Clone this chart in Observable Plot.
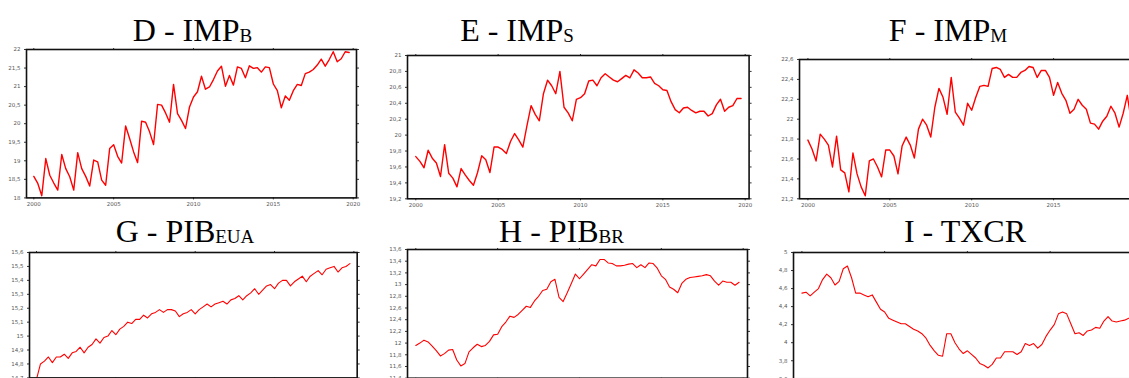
<!DOCTYPE html>
<html><head><meta charset="utf-8">
<script src="https://cdn.jsdelivr.net/npm/d3@7"></script>
<script src="https://cdn.jsdelivr.net/npm/@observablehq/plot@0.6"></script>
<style>
html,body{margin:0;padding:0;background:#fff}
body{width:1129px;height:378px;overflow:hidden;position:relative}
.title{position:absolute;font-family:"Liberation Serif","Times New Roman",serif;font-size:32px;line-height:32px;white-space:nowrap;transform:translateX(-50%);color:#000}
.title .sub{font-size:19px;position:relative;top:1px}
.panel{position:absolute}
</style></head>
<body>
<script>
// ---- data (quarterly, 2000Q1 .. 2019Q4) ----
const yearTicks = [2000, 2005, 2010, 2015, 2020];

const impB = [18.58,18.39,18.06,19.06,18.61,18.40,18.21,19.17,18.79,18.57,
18.21,19.22,18.79,18.58,18.32,19.02,18.97,18.48,18.34,19.33,
19.43,19.12,18.94,19.94,19.60,19.24,18.95,20.07,20.04,19.78,
19.44,20.52,20.50,20.29,20.04,21.06,20.27,20.09,19.87,20.45,
20.72,20.86,21.28,20.93,20.99,21.19,21.42,21.55,21.01,21.30,
21.04,21.53,21.49,21.24,21.56,21.49,21.51,21.39,21.53,21.51,
21.07,20.89,20.43,20.75,20.63,20.89,21.06,21.03,21.35,21.39,
21.46,21.58,21.74,21.55,21.73,21.94,21.67,21.75,21.94,21.92];

const impS = [19.73,19.67,19.59,19.81,19.71,19.65,19.48,19.88,19.52,19.46,
19.35,19.58,19.50,19.43,19.37,19.53,19.74,19.69,19.53,19.85,
19.85,19.82,19.77,19.92,20.02,19.94,19.85,20.12,20.37,20.26,
20.18,20.52,20.69,20.62,20.52,20.80,20.35,20.28,20.18,20.45,
20.47,20.52,20.68,20.69,20.62,20.72,20.77,20.73,20.69,20.67,
20.71,20.75,20.72,20.82,20.78,20.72,20.72,20.73,20.65,20.62,
20.57,20.56,20.42,20.32,20.28,20.34,20.35,20.31,20.28,20.30,
20.30,20.24,20.27,20.38,20.45,20.30,20.35,20.37,20.46,20.46];

const impM = [21.79,21.70,21.58,21.85,21.80,21.74,21.52,21.83,21.49,21.46,
21.27,21.66,21.45,21.32,21.23,21.58,21.60,21.52,21.42,21.69,
21.69,21.63,21.45,21.73,21.82,21.74,21.61,21.90,22.00,21.94,
21.82,22.12,22.31,22.22,22.05,22.42,22.07,22.01,21.94,22.16,
22.09,22.22,22.33,22.34,22.33,22.51,22.52,22.50,22.42,22.45,
22.42,22.42,22.47,22.49,22.53,22.52,22.42,22.49,22.49,22.42,
22.24,22.37,22.26,22.19,22.06,22.10,22.20,22.14,22.10,21.96,
21.95,21.90,21.98,22.03,22.13,22.06,21.92,22.06,22.24,21.98];

const pibEUA = [14.69,14.80,14.82,14.85,14.81,14.85,14.85,14.87,14.84,14.88,
14.89,14.92,14.88,14.92,14.94,14.98,14.95,14.99,15.00,15.04,
15.01,15.05,15.07,15.10,15.09,15.12,15.12,15.15,15.13,15.16,
15.17,15.19,15.17,15.19,15.19,15.18,15.14,15.16,15.17,15.19,
15.16,15.19,15.21,15.23,15.21,15.23,15.24,15.25,15.23,15.26,
15.27,15.29,15.26,15.29,15.31,15.34,15.30,15.33,15.36,15.37,
15.34,15.38,15.40,15.40,15.36,15.39,15.41,15.43,15.39,15.43,
15.45,15.47,15.44,15.48,15.49,15.50,15.46,15.49,15.50,15.52];

const pibBR = [11.96,12.00,12.05,12.02,11.95,11.87,11.78,11.82,11.88,11.89,
11.71,11.61,11.65,11.85,11.92,11.98,11.94,11.96,12.03,12.14,
12.15,12.28,12.36,12.46,12.44,12.49,12.56,12.63,12.61,12.72,
12.80,12.90,12.92,13.05,13.09,12.78,12.71,12.86,13.02,13.18,
13.10,13.18,13.26,13.34,13.32,13.43,13.43,13.37,13.36,13.32,
13.32,13.33,13.35,13.36,13.29,13.34,13.29,13.37,13.36,13.28,
13.15,13.09,12.96,12.92,12.86,13.02,13.09,13.12,13.13,13.14,
13.15,13.17,13.15,13.06,12.99,13.06,13.04,13.04,12.99,13.04];

const txcr = [4.55,4.56,4.52,4.56,4.60,4.70,4.76,4.72,4.64,4.68,
4.82,4.85,4.72,4.55,4.55,4.53,4.51,4.53,4.45,4.37,
4.34,4.27,4.25,4.23,4.21,4.21,4.18,4.15,4.13,4.10,
4.05,3.97,3.91,3.86,3.85,4.10,4.10,4.00,3.93,3.88,
3.91,3.87,3.83,3.77,3.75,3.72,3.76,3.83,3.83,3.90,
3.90,3.90,3.87,3.90,3.99,3.97,3.99,3.94,3.98,4.07,
4.14,4.20,4.32,4.34,4.32,4.21,4.10,4.11,4.08,4.13,
4.14,4.17,4.16,4.24,4.29,4.24,4.23,4.24,4.25,4.27];

const ticksD = [18,18.5,19,19.5,20,20.5,21,21.5,22];
const ticksE = [19.2,19.4,19.6,19.8,20,20.2,20.4,20.6,20.8,21];
const ticksF = [21.2,21.4,21.6,21.8,22,22.2,22.4,22.6];
const ticksG = [14.7,14.8,14.9,15,15.1,15.2,15.3,15.4,15.5,15.6];
const ticksH = [11.4,11.6,11.8,12,12.2,12.4,12.6,12.8,13,13.2,13.4,13.6];
const ticksI = [3.6,3.8,4,4.2,4.4,4.6,4.8,5];

// quarter positions
const quarterTime = d3.range(impB.length).map(i => 2000 + i / 4);

// ---- layout ----
const panels = [
  {letter:"D", name:"IMP", sub:"B", values:impB, ticks:ticksD, yd:[18,22],
   fx:[26,356], fy:[49.3,197.7], px0:33.3, k:15.97, tx:192.5, ty:14, sw:1.4, xl:yearTicks},
  {letter:"E", name:"IMP", sub:"S", values:impS, ticks:ticksE, yd:[19.2,21],
   fx:[406.7,748.3], fy:[55,198.3], px0:415, k:16.47, tx:517, ty:14, sw:1.4, xl:yearTicks},
  {letter:"F", name:"IMP", sub:"M", values:impM, ticks:ticksF, yd:[21.2,22.6],
   fx:[799.3,1140], fy:[59,198.3], px0:807.7, k:16.38, tx:948, ty:14, sw:1.4, xl:yearTicks.slice(0, 4)},
  {letter:"G", name:"PIB", sub:"EUA", values:pibEUA, ticks:ticksG, yd:[14.7,15.6],
   fx:[29,356.7], fy:[251.7,377.1], px0:36, k:15.87, tx:185, ty:215, sw:1.1, xl:[]},
  {letter:"H", name:"PIB", sub:"BR", values:pibBR, ticks:ticksH, yd:[11.4,13.6],
   fx:[406.7,746.7], fy:[249.3,378], px0:415, k:16.37, tx:561.5, ty:215, sw:1.1, xl:[]},
  {letter:"I", name:"TXCR", sub:"", values:txcr, ticks:ticksI, yd:[3.6,5],
   fx:[793.3,1140], fy:[251.7,378], px0:801.7, k:16.55, tx:965, ty:215, sw:1.1, xl:[]}
];

const fmt = d => String(d).replace(".", ",");
const ML = 30, MR = 8, MT = 6, MB = 16;

for (const p of panels) {
  const t = document.createElement("div");
  t.className = "title";
  t.style.left = p.tx + "px";
  t.style.top = p.ty + "px";
  t.innerHTML = `${p.letter} - ${p.name}` + (p.sub ? `<span class="sub">${p.sub}</span>` : "");
  document.body.appendChild(t);

  const xd = [2000 + (p.fx[0] - p.px0) / p.k, 2000 + (p.fx[1] - p.px0) / p.k];
  const data = p.values.map((v, i) => ({t: quarterTime[i], v}));
  const w = p.fx[1] - p.fx[0] + ML + MR;
  const h = p.fy[1] - p.fy[0] + MT + MB;
  const marks = [
    Plot.axisY({ticks: p.ticks, tickSize: 2, tickPadding: 4, tickFormat: fmt, fontSize: 5.5, fill: "#555", stroke: "#333", label: null}),
    Plot.axisY({anchor: "right", ticks: p.ticks, tickSize: 2, tickFormat: () => "", stroke: "#333", label: null}),
    Plot.axisX({ticks: yearTicks, tickSize: 2, tickFormat: () => "", stroke: "#333", label: null}),
    Plot.axisX({anchor: "top", ticks: yearTicks, tickSize: 2, tickFormat: () => "", stroke: "#333", label: null}),
    Plot.line(data, {x: "t", y: "v", stroke: "#ff0000", strokeWidth: p.sw, clip: true}),
    Plot.frame({stroke: "#111", strokeWidth: 1.6})
  ];
  if (p.xl.length) {
    marks.push(Plot.axisX({ticks: p.xl, tickSize: 0, tickPadding: 4, tickFormat: d => String(d), fontSize: 5.5, fill: "#555", label: null}));
  }
  const chart = Plot.plot({
    width: w, height: h,
    marginLeft: ML, marginRight: MR, marginTop: MT, marginBottom: MB,
    x: {domain: xd}, y: {domain: p.yd},
    style: {background: "transparent", overflow: "visible", fontFamily: "DejaVu Sans, sans-serif"},
    marks
  });
  chart.classList.add("panel");
  chart.style.left = (p.fx[0] - ML) + "px";
  chart.style.top = (p.fy[0] - MT) + "px";
  document.body.appendChild(chart);
}
</script>
</body></html>
